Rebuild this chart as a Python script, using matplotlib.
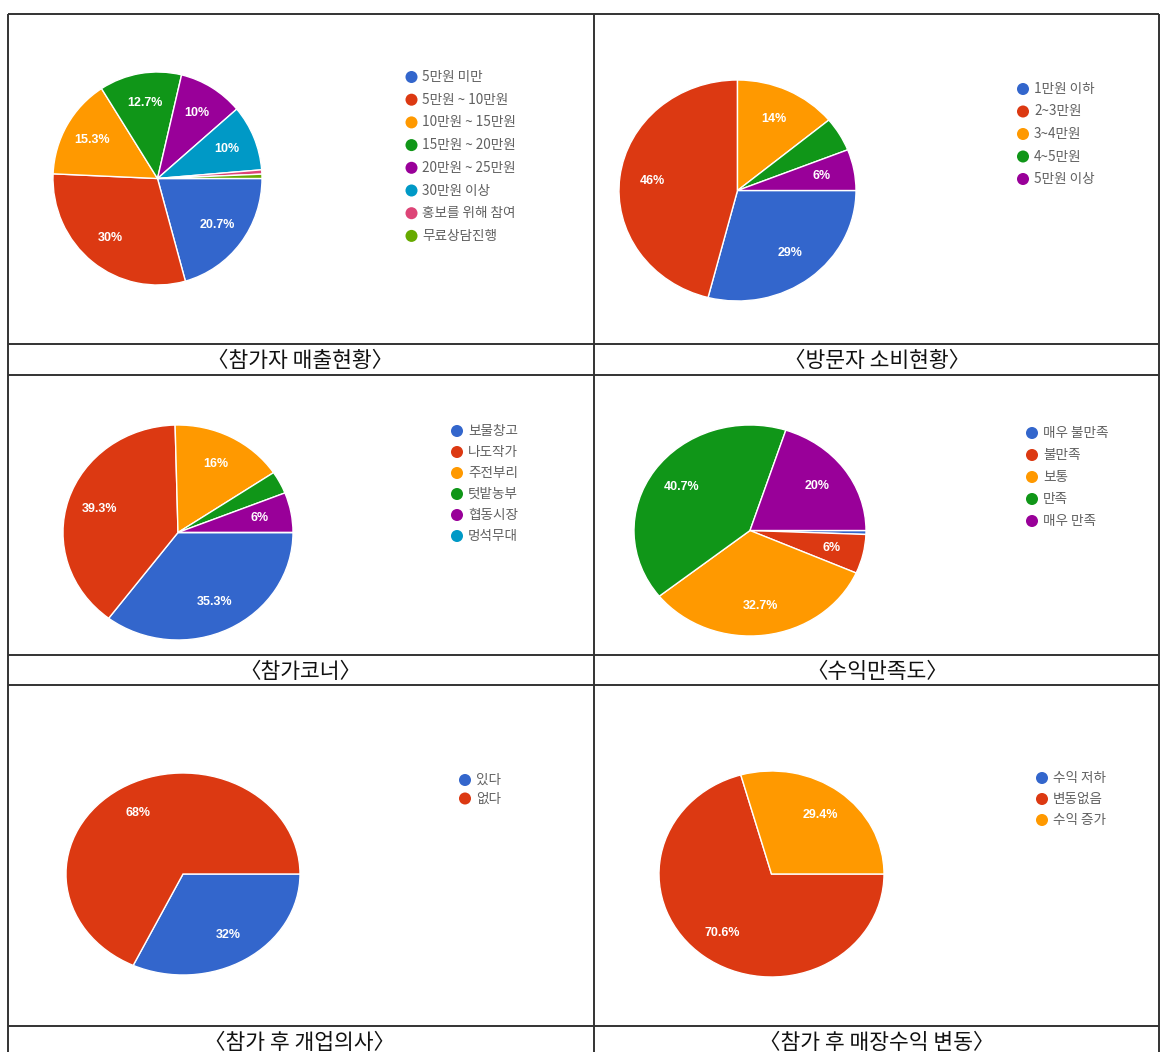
import matplotlib
matplotlib.use("Agg")
import matplotlib.pyplot as plt

# ---- data ---------------------------------------------------------------
sales_labels = ['5만원 미만', '5만원 ~ 10만원', '10만원 ~ 15만원', '15만원 ~ 20만원',
                '20만원 ~ 25만원', '30만원 이상', '홍보를 위해 참여', '무료상담진행']
sales_values = [20.7, 30, 15.3, 12.7, 10, 10, 0.65, 0.65]

spend_labels = ['1만원 이하', '2~3만원', '3~4만원', '4~5만원', '5만원 이상']
spend_values = [29, 46, 14, 5, 6]

corner_labels = ['보물창고', '나도작가', '주전부리', '텃밭농부', '협동시장', '멍석무대']
corner_values = [35.3, 39.3, 16, 3.4, 6, 0]

satis_labels = ['매우 불만족', '불만족', '보통', '만족', '매우 만족']
satis_values = [0.6, 6, 32.7, 40.7, 20]

startup_labels = ['있다', '없다']
startup_values = [32, 68]

change_labels = ['수익 저하', '변동없음', '수익 증가']
change_values = [0, 70.6, 29.4]

captions = ['〈참가자 매출현황〉', '〈방문자 소비현황〉', '〈참가코너〉',
            '〈수익만족도〉', '〈참가 후 개업의사〉', '〈참가 후 매장수익 변동〉']

palette = ['#3366CC', '#DC3912', '#FF9900', '#109618', '#990099',
           '#0099C6', '#DD4477', '#66AA00']

# ---- figure -------------------------------------------------------------
W, H = 1160, 1052
fig = plt.figure(figsize=(W / 100, H / 100), dpi=100)
fig.patch.set_facecolor('white')

KR = ['Noto Sans CJK KR', 'DejaVu Sans']

# background axes in pixel coordinates for the table grid, captions, legends
bg = fig.add_axes([0, 0, 1, 1])
bg.set_xlim(0, W)
bg.set_ylim(H, 0)
bg.axis('off')

line_kw = dict(color='#333333', lw=1.4, solid_capstyle='butt')
left, right, mid = 7.5, 1158.5, 594
for y in [13.5, 343.5, 374.5, 655, 685, 1026]:
    bg.plot([left, right], [y, y], **line_kw)
for x in [left, mid, right]:
    bg.plot([x, x], [13.5, H], **line_kw)

cap_pos = [(300, 361), (877, 361), (300, 672), (877, 672), (300, 1043), (877, 1043)]
for (cx, cy), text in zip(cap_pos, captions):
    bg.text(cx, cy, text, ha='center', va='center', fontsize=15.5,
            family=KR, color='#111111')


def fmt_pct(p):
    if p < 5.5:
        return ''
    s = f"{p:.1f}"
    if s.endswith('.0'):
        s = s[:-2]
    return s + '%'


def draw_pie(values, box):
    x0, y0, x1, y1 = box
    ax = fig.add_axes([x0 / W, 1 - y1 / H, (x1 - x0) / W, (y1 - y0) / H])
    ax.pie(values, colors=palette[:len(values)], startangle=0,
           counterclock=False, autopct=fmt_pct, pctdistance=0.72,
           wedgeprops=dict(edgecolor='white', linewidth=1.0),
           textprops=dict(color='white', fontsize=9, fontweight='bold',
                          family='Liberation Sans'))
    ax.set_aspect('auto')
    ax.set_xlim(-1, 1)
    ax.set_ylim(-1, 1)
    ax.axis('off')


def draw_legend(labels, x, y, step):
    for i, lab in enumerate(labels):
        yy = y + i * step
        bg.scatter([x], [yy], s=75, color=palette[i], edgecolors='none', zorder=3)
        bg.text(x + 11, yy, lab, ha='left', va='center', fontsize=9.8,
                family=KR, color='#606060')


draw_pie(sales_values, (53, 72, 262, 285))
draw_legend(sales_labels, 411.5, 77, 22.7)

draw_pie(spend_values, (619, 80, 856, 301))
draw_legend(spend_labels, 1023, 89, 22.5)

draw_pie(corner_values, (63, 425, 293, 640))
draw_legend(corner_labels, 457, 431, 21)

draw_pie(satis_values, (634, 425, 866, 636))
draw_legend(satis_labels, 1032, 433, 22)

draw_pie(startup_values, (66, 773, 300, 975))
draw_legend(startup_labels, 465, 780, 18.5)

draw_pie(change_values, (659, 771, 884, 977))
draw_legend(change_labels, 1042, 778, 21)

fig.savefig('out.png', dpi=100, facecolor='white')
